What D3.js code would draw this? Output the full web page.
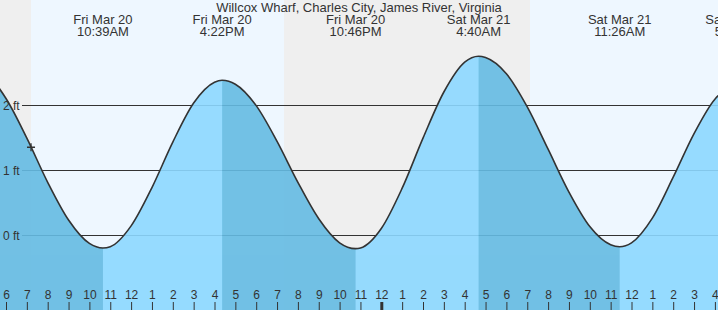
<!DOCTYPE html>
<html><head><meta charset="utf-8">
<script src="https://cdn.jsdelivr.net/npm/d3@7"></script>
<style>
html,body{margin:0;padding:0;background:#fff;}
svg{display:block;font-family:"Liberation Sans",Arial,sans-serif;}
</style>
</head><body>
<svg id="chart" width="718" height="310"></svg>
<script>
const chartTitle = "Willcox Wharf, Charles City, James River, Virginia";

// Tide predictions (ft)
const tideTimes = [
  "2026-03-20 04:12","2026-03-20 05:00","2026-03-20 06:00","2026-03-20 07:00","2026-03-20 08:00",
  "2026-03-20 09:00","2026-03-20 10:00","2026-03-20 10:39","2026-03-20 11:00","2026-03-20 12:00",
  "2026-03-20 13:00","2026-03-20 14:00","2026-03-20 15:00","2026-03-20 16:00","2026-03-20 16:22",
  "2026-03-20 17:00","2026-03-20 18:00","2026-03-20 19:00","2026-03-20 20:00","2026-03-20 21:00",
  "2026-03-20 22:00","2026-03-20 22:46","2026-03-20 23:00","2026-03-21 00:00","2026-03-21 01:00",
  "2026-03-21 02:00","2026-03-21 03:00","2026-03-21 04:00","2026-03-21 04:40","2026-03-21 05:00",
  "2026-03-21 06:00","2026-03-21 07:00","2026-03-21 08:00","2026-03-21 09:00","2026-03-21 10:00",
  "2026-03-21 11:00","2026-03-21 11:26","2026-03-21 12:00","2026-03-21 13:00","2026-03-21 14:00",
  "2026-03-21 15:00","2026-03-21 16:00","2026-03-21 17:04"
];
const tideLevels = [
  2.60, 2.50, 2.10, 1.49, 0.81,
  0.23, -0.13, -0.20, -0.18, 0.14,
  0.73, 1.43, 2.03, 2.35, 2.38,
  2.32, 1.99, 1.44, 0.81, 0.25,
  -0.12, -0.21, -0.20, 0.10, 0.72,
  1.49, 2.20, 2.66, 2.75, 2.73,
  2.48, 1.97, 1.32, 0.66, 0.13,
  -0.15, -0.18, -0.12, 0.26, 0.89,
  1.56, 2.09, 2.30
];

// High / low events
const extremaTimes  = ["2026-03-20 04:12","2026-03-20 10:39","2026-03-20 16:22","2026-03-20 22:46","2026-03-21 04:40","2026-03-21 11:26","2026-03-21 17:04"];
const extremaLevels = [2.60, -0.20, 2.38, -0.21, 2.75, -0.18, 2.30];

// Daylight periods
const dayStarts = ["2026-03-20 07:12","2026-03-21 07:08"];
const dayEnds   = ["2026-03-20 19:20","2026-03-21 19:21"];

// Axis ticks
const yTickValues = [0, 1, 2];
const yTickLabels = ["0 ft", "1 ft", "2 ft"];
const hourTickStart = "2026-03-20 06:00";
const hourTickEnd   = "2026-03-21 16:00";

// "now" marker
const nowTime = "2026-03-20 07:12";
const nowLevel = 1.35;

const W = 718, H = 310;
const parse = d3.timeParse("%Y-%m-%d %H:%M");
const svg = d3.select("#chart");

const x = d3.scaleTime()
  .domain([parse(hourTickStart), parse(hourTickEnd)])
  .range([6, 6 + 34 * 20.85]);
const y = d3.scaleLinear().domain([0, 2]).range([235, 105]);

const tide = tideTimes.map((t, i) => ({t: parse(t), v: tideLevels[i]}));
const ext = extremaTimes.map((t, i) => ({t: parse(t), v: extremaLevels[i]}));

// background: night
svg.append("rect").attr("x", 0).attr("y", 0).attr("width", W).attr("height", H).attr("fill", "#efefef");
// day bands
dayStarts.forEach((s, i) => {
  const x0 = x(parse(s)), x1 = x(parse(dayEnds[i]));
  svg.append("rect").attr("x", x0).attr("y", 0).attr("width", x1 - x0).attr("height", H).attr("fill", "#eef7ff");
});

// grid lines
svg.append("g").selectAll("line").data(yTickValues).join("line")
  .attr("x1", 22).attr("x2", W)
  .attr("y1", d => Math.round(y(d)) + 0.5).attr("y2", d => Math.round(y(d)) + 0.5)
  .attr("stroke", "#333").attr("stroke-width", 1);

// area
const area = d3.area().x(d => x(d.t)).y0(H).y1(d => y(d.v)).curve(d3.curveMonotoneX);
const line = d3.line().x(d => x(d.t)).y(d => y(d.v)).curve(d3.curveMonotoneX);

svg.append("clipPath").attr("id", "tideClip").append("path").attr("d", area(tide));

const fillG = svg.append("g").attr("clip-path", "url(#tideClip)").attr("opacity", 0.9);
fillG.append("rect").attr("x", 0).attr("y", 0).attr("width", W).attr("height", H).attr("fill", "#64bbe3");
for (let i = 0; i < ext.length - 1; i++) {
  if (ext[i + 1].v > ext[i].v) {
    const x0 = x(ext[i].t), x1 = x(ext[i + 1].t);
    fillG.append("rect").attr("x", x0).attr("y", 0).attr("width", x1 - x0).attr("height", H).attr("fill", "#8cd8ff");
  }
}

svg.append("path").attr("d", line(tide)).attr("fill", "none")
  .attr("stroke", "#333").attr("stroke-width", 1.6);

// y labels
svg.append("g").selectAll("text").data(yTickValues).join("text")
  .attr("x", 3).attr("y", d => y(d) + 4.5)
  .attr("font-size", 12).attr("fill", "#333")
  .text((d, i) => yTickLabels[i]);

// hour axis
const hours = d3.timeHour.range(parse(hourTickStart), d3.timeHour.offset(parse(hourTickEnd), 1));
const axis = d3.axisTop(x).tickValues(hours).tickFormat(d3.timeFormat("%-I")).tickSize(8).tickPadding(3);
const axG = svg.append("g").attr("transform", `translate(0,${H})`).call(axis);
axG.select(".domain").remove();
axG.selectAll("text").attr("font-size", 12).attr("fill", "#333").attr("font-family", "Liberation Sans, Arial, sans-serif");
axG.selectAll("line").attr("stroke", "#333")
  .attr("stroke-width", d => d.getHours() === 0 ? 3 : 1);

// event labels (only those whose time falls inside the visible span)
const fmtDay = d3.timeFormat("%a %b %-d"), fmtTime = d3.timeFormat("%-I:%M%p");
const evG = svg.append("g").attr("font-size", 13).attr("fill", "#333").attr("text-anchor", "middle");
ext.filter(e => x(e.t) >= 0).forEach(e => {
  evG.append("text").attr("x", x(e.t)).attr("y", 24).text(fmtDay(e.t));
  evG.append("text").attr("x", x(e.t)).attr("y", 36).text(fmtTime(e.t));
});

// title
svg.append("text").attr("x", W / 2).attr("y", 12).attr("text-anchor", "middle")
  .attr("font-size", 13).attr("fill", "#333").text(chartTitle);

// now marker
const nx = x(parse(nowTime)), ny = y(nowLevel);
svg.append("path").attr("d", `M${nx - 4},${ny}H${nx + 4}M${nx},${ny - 4}V${ny + 4}`)
  .attr("stroke", "#333").attr("stroke-width", 1.3).attr("fill", "none");
</script>
</body></html>
